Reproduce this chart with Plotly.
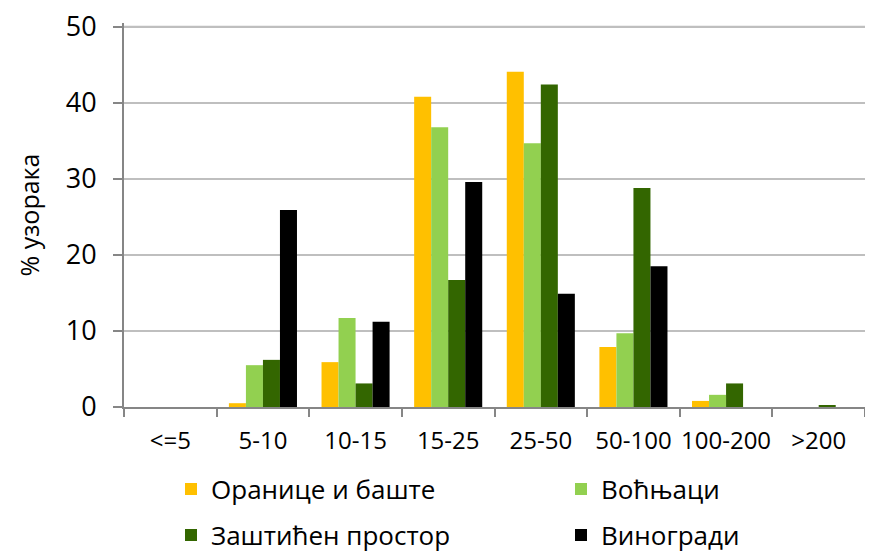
import plotly.graph_objects as go

categories = ["<=5", "5-10", "10-15", "15-25", "25-50", "50-100", "100-200", ">200"]
oranice = [0, 0.5, 5.9, 40.8, 44.1, 7.9, 0.8, 0]
vocnjaci = [0, 5.5, 11.7, 36.8, 34.7, 9.7, 1.6, 0]
zasticen = [0, 6.2, 3.1, 16.7, 42.4, 28.8, 3.1, 0.15]
vinogradi = [0, 25.9, 11.2, 29.6, 14.9, 18.5, 0, 0]
y_ticks = [0, 10, 20, 30, 40, 50]

series_names = ["Оранице и баште", "Воћњаци", "Заштићен простор", "Виногради"]
series_vals = [oranice, vocnjaci, zasticen, vinogradi]
colors = ["#FFC000", "#92D050", "#336600", "#000000"]
legends = ["legend", "legend2", "legend3", "legend4"]

# page body has an 8px default margin, so the figure is drawn 8px smaller
W, H = 865, 544
# legend anchor positions in figure pixels (x of left edge, y of row centre)
leg_pos = [(163, 481), (553, 481), (163, 527), (553, 527)]

FONT = "Open Sans, sans-serif"
GRID = "#BFBFBF"

fig = go.Figure()
for name, vals, col, lg in zip(series_names, series_vals, colors, legends):
    fig.add_trace(go.Bar(x=categories, y=vals, name=name, marker_color=col,
                         marker_line_width=0, legend=lg))

# top gridline (plotly drops gridlines right at the plot edge)
fig.add_shape(type="line", xref="paper", yref="y", x0=0, x1=1,
              y0=y_ticks[-1], y1=y_ticks[-1], line=dict(color=GRID, width=2), layer="below")

leg_common = dict(orientation="h", font=dict(family=FONT, size=26, color="#000"),
                  xref="container", yref="container", visible=True,
                  xanchor="left", yanchor="middle", bgcolor="rgba(0,0,0,0)", borderwidth=0)

legend_layout = {}
for lg, (lx, ly) in zip(legends, leg_pos):
    legend_layout[lg] = dict(x=lx / W, y=1 - ly / H, **leg_common)

fig.update_layout(
    width=W, height=H, showlegend=True,
    margin=dict(l=116, r=8, t=15.2, b=145, autoexpand=False),
    paper_bgcolor="white", plot_bgcolor="white",
    barmode="group", bargap=0.265, bargroupgap=0,
    font=dict(family=FONT, color="#000"),
    xaxis=dict(type="category", showline=True, linecolor="#868686", linewidth=2,
               ticks="outside", tickson="boundaries", ticklen=8, tickcolor="#868686", tickwidth=2,
               tickfont=dict(family=FONT, size=24, color="#000"), ticklabelstandoff=11,
               tickangle=0, showgrid=False, automargin=False),
    yaxis=dict(range=[0, 50.5], tickmode="array", tickvals=y_ticks,
               showline=True, linecolor="#868686", linewidth=2,
               ticks="outside", ticklen=9, tickcolor="#868686", tickwidth=2,
               tickfont=dict(family=FONT, size=27, color="#000"), ticklabelstandoff=11,
               ticklabeloverflow="allow",
               showgrid=True, gridcolor=GRID, gridwidth=2, zeroline=False, automargin=False,
               title=dict(text="% узорака", font=dict(family=FONT, size=25, color="#000"), standoff=19)),
    **legend_layout,
)

fig.write_html("out.html")
